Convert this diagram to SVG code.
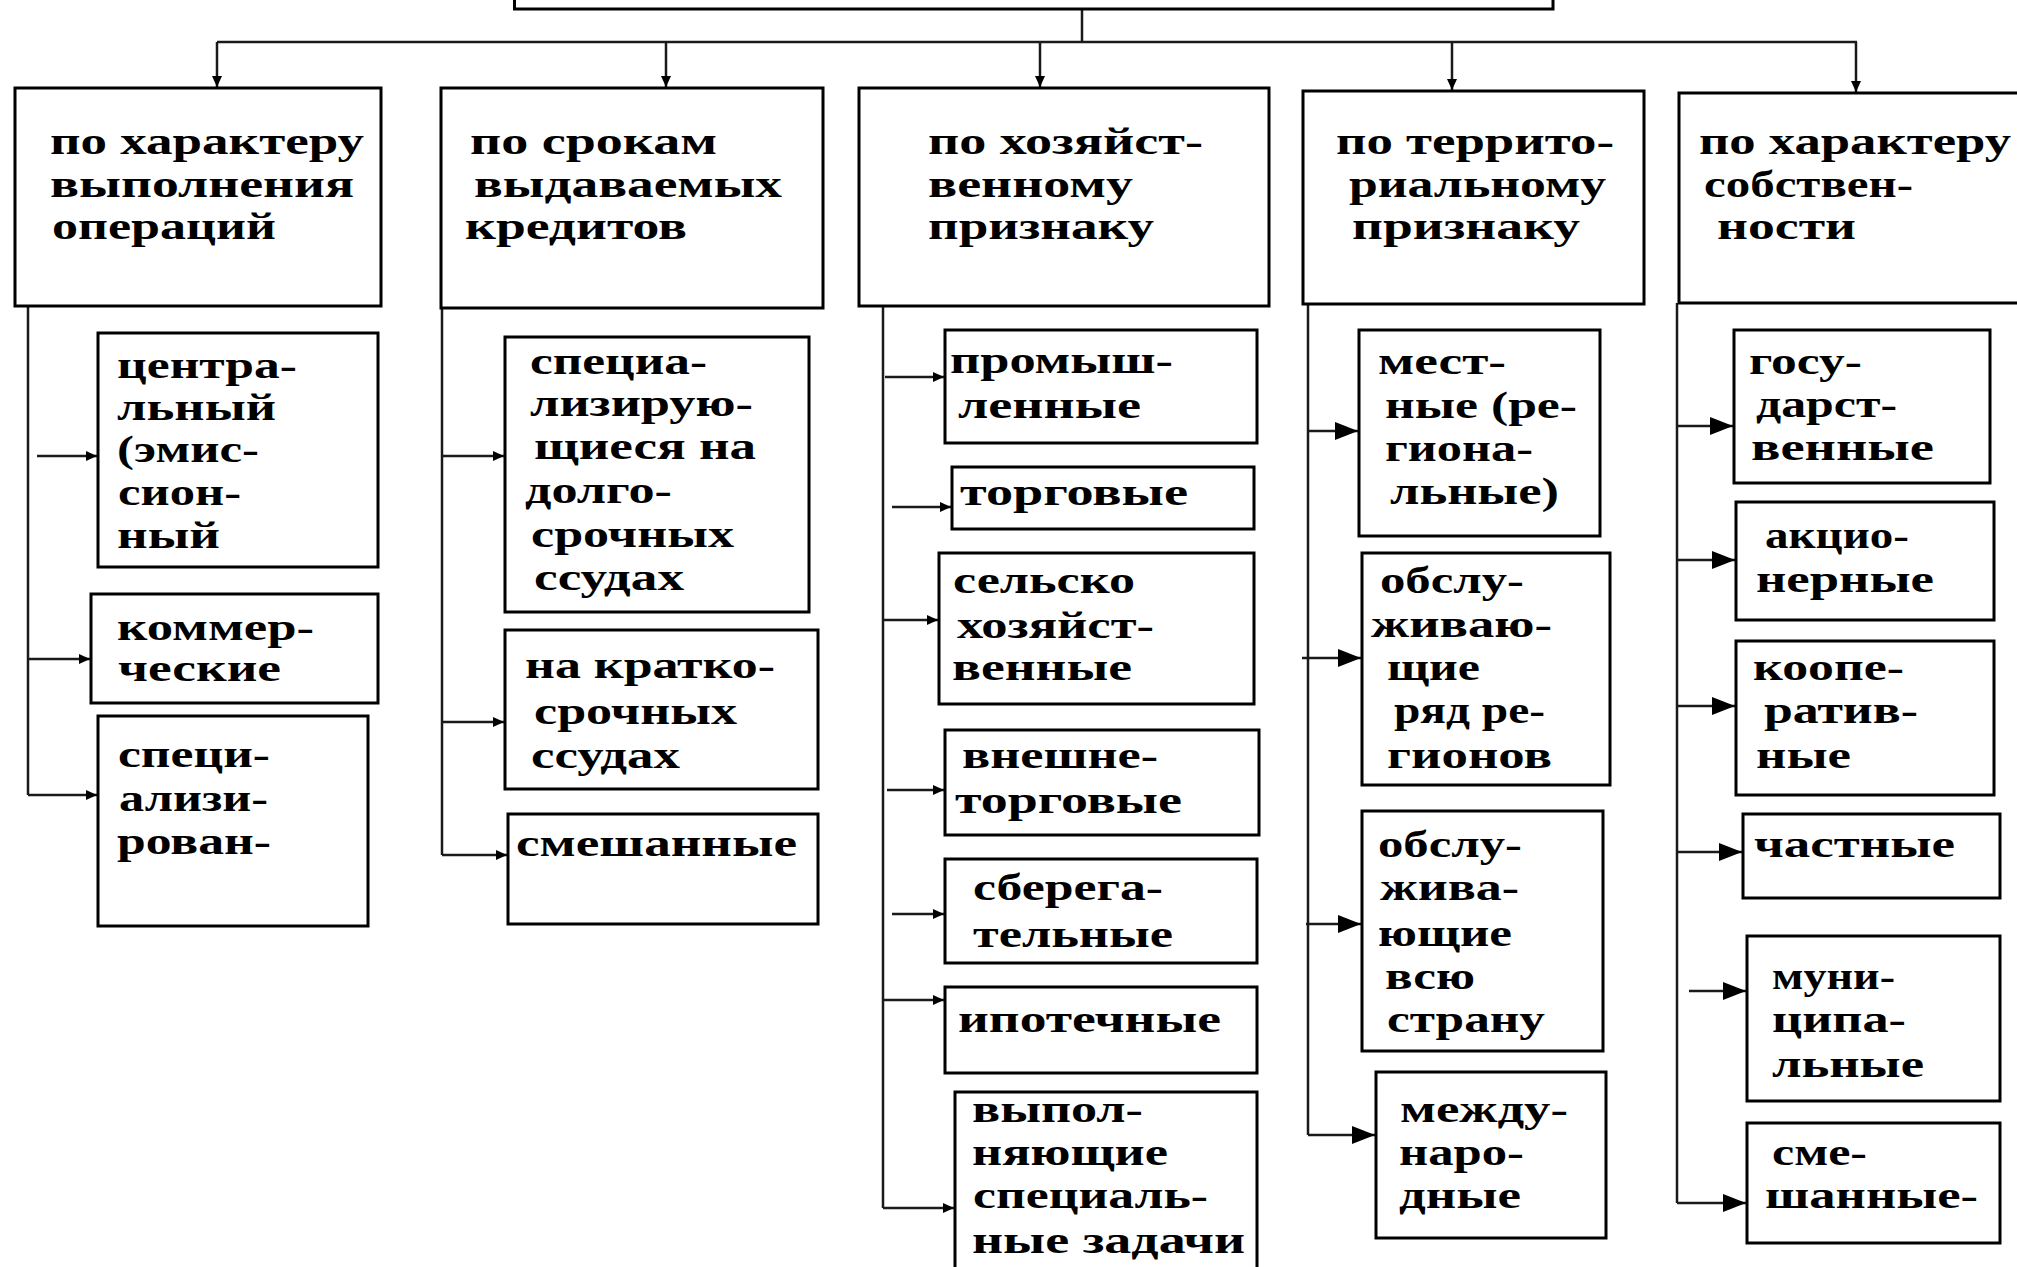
<svg xmlns="http://www.w3.org/2000/svg" width="2017" height="1267" viewBox="0 0 2017 1267">
<defs>
<style>
.box{fill:#fff;stroke:#000;stroke-width:3}
.t{font-family:"Liberation Serif","Times New Roman",serif;font-weight:bold;font-size:38px;fill:#000}
.c{stroke:#1a1a1a;stroke-width:2.5;fill:none}
.cs{stroke:#1a1a1a;stroke-width:2.5;fill:none;marker-end:url(#as)}
.cb{stroke:#1a1a1a;stroke-width:2.5;fill:none;marker-end:url(#ab)}
</style>
<marker id="as" markerUnits="userSpaceOnUse" markerWidth="12" markerHeight="10" refX="11" refY="5" orient="auto"><path d="M0,0 L11,5 L0,10 z" fill="#000"/></marker>
<marker id="ab" markerUnits="userSpaceOnUse" markerWidth="24" markerHeight="18" refX="23" refY="9" orient="auto"><path d="M0,0 L23,9 L0,18 z" fill="#000"/></marker>
</defs>
<rect width="2017" height="1267" fill="#fff"/>

<g id="connectors">
<path class="c" d="M1082,9 V42 M217,42 H1857"/>
<path class="cs" d="M217,42 V87"/>
<path class="cs" d="M666,42 V87"/>
<path class="cs" d="M1040,42 V87"/>
<path class="cs" d="M1452,42 V90"/>
<path class="cs" d="M1856,42 V92"/>
<path class="c" d="M28,306 V795"/>
<path class="cs" d="M37,456 H97"/>
<path class="cs" d="M28,659 H90"/>
<path class="cs" d="M28,795 H97"/>
<path class="c" d="M442,308 V855"/>
<path class="cs" d="M442,456 H504"/>
<path class="cs" d="M442,722 H504"/>
<path class="cs" d="M442,855 H507"/>
<path class="c" d="M883,306 V1208"/>
<path class="cs" d="M885,377 H944"/>
<path class="cs" d="M892,507 H951"/>
<path class="cs" d="M883,620 H938"/>
<path class="cs" d="M887,790 H944"/>
<path class="cs" d="M892,914 H944"/>
<path class="cs" d="M883,1000 H944"/>
<path class="cs" d="M883,1208 H954"/>
<path class="c" d="M1308,304 V1135"/>
<path class="cb" d="M1308,431 H1358"/>
<path class="cb" d="M1302,658 H1361"/>
<path class="cb" d="M1306,924 H1361"/>
<path class="cb" d="M1308,1135 H1375"/>
<path class="c" d="M1677,303 V1203"/>
<path class="cb" d="M1677,426 H1733"/>
<path class="cb" d="M1677,560 H1735"/>
<path class="cb" d="M1677,706 H1735"/>
<path class="cb" d="M1677,852 H1742"/>
<path class="cb" d="M1689,991 H1746"/>
<path class="cb" d="M1677,1203 H1746"/>
</g>

<g id="root"><rect class="box" x="514.5" y="-20" width="1038.5" height="29"/></g>

<g id="b1"><rect class="box" x="15" y="88" width="366" height="218"/>
<text class="t"><tspan x="50" y="154" textLength="314" lengthAdjust="spacingAndGlyphs">по характеру</tspan><tspan x="50" y="197" textLength="304" lengthAdjust="spacingAndGlyphs">выполнения</tspan><tspan x="52" y="239" textLength="224" lengthAdjust="spacingAndGlyphs">операций</tspan></text></g>
<g id="b2"><rect class="box" x="441" y="88" width="382" height="220"/>
<text class="t"><tspan x="470" y="154" textLength="247" lengthAdjust="spacingAndGlyphs">по срокам</tspan><tspan x="474" y="197" textLength="308" lengthAdjust="spacingAndGlyphs">выдаваемых</tspan><tspan x="465" y="239" textLength="222" lengthAdjust="spacingAndGlyphs">кредитов</tspan></text></g>
<g id="b3"><rect class="box" x="859" y="88" width="410" height="218"/>
<text class="t"><tspan x="928" y="154" textLength="275" lengthAdjust="spacingAndGlyphs">по хозяйст-</tspan><tspan x="928" y="197" textLength="205" lengthAdjust="spacingAndGlyphs">венному</tspan><tspan x="928" y="239" textLength="226" lengthAdjust="spacingAndGlyphs">признаку</tspan></text></g>
<g id="b4"><rect class="box" x="1303" y="91" width="341" height="213"/>
<text class="t"><tspan x="1336" y="154" textLength="278" lengthAdjust="spacingAndGlyphs">по террито-</tspan><tspan x="1349" y="197" textLength="257" lengthAdjust="spacingAndGlyphs">риальному</tspan><tspan x="1352" y="239" textLength="228" lengthAdjust="spacingAndGlyphs">признаку</tspan></text></g>
<g id="b5"><rect class="box" x="1679" y="93" width="360" height="210"/>
<text class="t"><tspan x="1699" y="154" textLength="312" lengthAdjust="spacingAndGlyphs">по характеру</tspan><tspan x="1704" y="197" textLength="209" lengthAdjust="spacingAndGlyphs">собствен-</tspan><tspan x="1717" y="239" textLength="139" lengthAdjust="spacingAndGlyphs">ности</tspan></text></g>

<g id="c1a"><rect class="box" x="98" y="333" width="280" height="234"/>
<text class="t"><tspan x="117" y="378" textLength="180" lengthAdjust="spacingAndGlyphs">центра-</tspan><tspan x="117" y="420" textLength="159" lengthAdjust="spacingAndGlyphs">льный</tspan><tspan x="117" y="462" textLength="142" lengthAdjust="spacingAndGlyphs">(эмис-</tspan><tspan x="118" y="505" textLength="123" lengthAdjust="spacingAndGlyphs">сион-</tspan><tspan x="117" y="548" textLength="103" lengthAdjust="spacingAndGlyphs">ный</tspan></text></g>
<g id="c1b"><rect class="box" x="91" y="594" width="287" height="109"/>
<text class="t"><tspan x="117" y="640" textLength="197" lengthAdjust="spacingAndGlyphs">коммер-</tspan><tspan x="118" y="681" textLength="163" lengthAdjust="spacingAndGlyphs">ческие</tspan></text></g>
<g id="c1c"><rect class="box" x="98" y="716" width="270" height="210"/>
<text class="t"><tspan x="118" y="767" textLength="152" lengthAdjust="spacingAndGlyphs">специ-</tspan><tspan x="119" y="811" textLength="149" lengthAdjust="spacingAndGlyphs">ализи-</tspan><tspan x="117" y="854" textLength="154" lengthAdjust="spacingAndGlyphs">рован-</tspan></text></g>

<g id="c2a"><rect class="box" x="505" y="337" width="304" height="275"/>
<text class="t"><tspan x="530" y="374" textLength="177" lengthAdjust="spacingAndGlyphs">специа-</tspan><tspan x="530" y="416" textLength="223" lengthAdjust="spacingAndGlyphs">лизирую-</tspan><tspan x="534" y="459" textLength="222" lengthAdjust="spacingAndGlyphs">щиеся на</tspan><tspan x="525" y="503" textLength="147" lengthAdjust="spacingAndGlyphs">долго-</tspan><tspan x="531" y="547" textLength="203" lengthAdjust="spacingAndGlyphs">срочных</tspan><tspan x="534" y="590" textLength="150" lengthAdjust="spacingAndGlyphs">ссудах</tspan></text></g>
<g id="c2b"><rect class="box" x="505" y="630" width="313" height="159"/>
<text class="t"><tspan x="525" y="678" textLength="250" lengthAdjust="spacingAndGlyphs">на кратко-</tspan><tspan x="534" y="724" textLength="203" lengthAdjust="spacingAndGlyphs">срочных</tspan><tspan x="531" y="768" textLength="149" lengthAdjust="spacingAndGlyphs">ссудах</tspan></text></g>
<g id="c2c"><rect class="box" x="508" y="814" width="310" height="110"/>
<text class="t"><tspan x="516" y="856" textLength="281" lengthAdjust="spacingAndGlyphs">смешанные</tspan></text></g>

<g id="c3a"><rect class="box" x="945" y="330" width="312" height="113"/>
<text class="t"><tspan x="950" y="373" textLength="223" lengthAdjust="spacingAndGlyphs">промыш-</tspan><tspan x="958" y="418" textLength="183" lengthAdjust="spacingAndGlyphs">ленные</tspan></text></g>
<g id="c3b"><rect class="box" x="952" y="467" width="302" height="62"/>
<text class="t"><tspan x="960" y="505" textLength="228" lengthAdjust="spacingAndGlyphs">торговые</tspan></text></g>
<g id="c3c"><rect class="box" x="939" y="553" width="315" height="151"/>
<text class="t"><tspan x="953" y="593" textLength="182" lengthAdjust="spacingAndGlyphs">сельско</tspan><tspan x="957" y="638" textLength="197" lengthAdjust="spacingAndGlyphs">хозяйст-</tspan><tspan x="952" y="680" textLength="180" lengthAdjust="spacingAndGlyphs">венные</tspan></text></g>
<g id="c3d"><rect class="box" x="945" y="730" width="314" height="105"/>
<text class="t"><tspan x="962" y="768" textLength="196" lengthAdjust="spacingAndGlyphs">внешне-</tspan><tspan x="955" y="813" textLength="227" lengthAdjust="spacingAndGlyphs">торговые</tspan></text></g>
<g id="c3e"><rect class="box" x="945" y="859" width="312" height="104"/>
<text class="t"><tspan x="973" y="900" textLength="190" lengthAdjust="spacingAndGlyphs">сберега-</tspan><tspan x="973" y="947" textLength="200" lengthAdjust="spacingAndGlyphs">тельные</tspan></text></g>
<g id="c3f"><rect class="box" x="945" y="987" width="312" height="86"/>
<text class="t"><tspan x="958" y="1032" textLength="263" lengthAdjust="spacingAndGlyphs">ипотечные</tspan></text></g>
<g id="c3g"><rect class="box" x="955" y="1092" width="302" height="200"/>
<text class="t"><tspan x="972" y="1122" textLength="171" lengthAdjust="spacingAndGlyphs">выпол-</tspan><tspan x="972" y="1165" textLength="196" lengthAdjust="spacingAndGlyphs">няющие</tspan><tspan x="973" y="1208" textLength="235" lengthAdjust="spacingAndGlyphs">специаль-</tspan><tspan x="972" y="1253" textLength="273" lengthAdjust="spacingAndGlyphs">ные задачи</tspan></text></g>

<g id="c4a"><rect class="box" x="1359" y="330" width="241" height="206"/>
<text class="t"><tspan x="1378" y="374" textLength="128" lengthAdjust="spacingAndGlyphs">мест-</tspan><tspan x="1385" y="418" textLength="192" lengthAdjust="spacingAndGlyphs">ные (ре-</tspan><tspan x="1385" y="461" textLength="148" lengthAdjust="spacingAndGlyphs">гиона-</tspan><tspan x="1390" y="504" textLength="169" lengthAdjust="spacingAndGlyphs">льные)</tspan></text></g>
<g id="c4b"><rect class="box" x="1362" y="553" width="248" height="232"/>
<text class="t"><tspan x="1380" y="593" textLength="144" lengthAdjust="spacingAndGlyphs">обслу-</tspan><tspan x="1371" y="637" textLength="181" lengthAdjust="spacingAndGlyphs">живаю-</tspan><tspan x="1387" y="680" textLength="93" lengthAdjust="spacingAndGlyphs">щие</tspan><tspan x="1394" y="723" textLength="151" lengthAdjust="spacingAndGlyphs">ряд ре-</tspan><tspan x="1387" y="768" textLength="165" lengthAdjust="spacingAndGlyphs">гионов</tspan></text></g>
<g id="c4c"><rect class="box" x="1362" y="811" width="241" height="240"/>
<text class="t"><tspan x="1378" y="857" textLength="144" lengthAdjust="spacingAndGlyphs">обслу-</tspan><tspan x="1380" y="900" textLength="139" lengthAdjust="spacingAndGlyphs">жива-</tspan><tspan x="1378" y="946" textLength="134" lengthAdjust="spacingAndGlyphs">ющие</tspan><tspan x="1385" y="989" textLength="90" lengthAdjust="spacingAndGlyphs">всю</tspan><tspan x="1387" y="1032" textLength="158" lengthAdjust="spacingAndGlyphs">страну</tspan></text></g>
<g id="c4d"><rect class="box" x="1376" y="1072" width="230" height="166"/>
<text class="t"><tspan x="1400" y="1122" textLength="168" lengthAdjust="spacingAndGlyphs">между-</tspan><tspan x="1399" y="1165" textLength="125" lengthAdjust="spacingAndGlyphs">наро-</tspan><tspan x="1399" y="1208" textLength="122" lengthAdjust="spacingAndGlyphs">дные</tspan></text></g>

<g id="c5a"><rect class="box" x="1734" y="330" width="256" height="153"/>
<text class="t"><tspan x="1749" y="374" textLength="113" lengthAdjust="spacingAndGlyphs">госу-</tspan><tspan x="1756" y="417" textLength="141" lengthAdjust="spacingAndGlyphs">дарст-</tspan><tspan x="1751" y="460" textLength="183" lengthAdjust="spacingAndGlyphs">венные</tspan></text></g>
<g id="c5b"><rect class="box" x="1736" y="502" width="258" height="118"/>
<text class="t"><tspan x="1765" y="548" textLength="144" lengthAdjust="spacingAndGlyphs">акцио-</tspan><tspan x="1756" y="592" textLength="178" lengthAdjust="spacingAndGlyphs">нерные</tspan></text></g>
<g id="c5c"><rect class="box" x="1736" y="641" width="258" height="154"/>
<text class="t"><tspan x="1753" y="680" textLength="151" lengthAdjust="spacingAndGlyphs">коопе-</tspan><tspan x="1764" y="723" textLength="154" lengthAdjust="spacingAndGlyphs">ратив-</tspan><tspan x="1756" y="768" textLength="95" lengthAdjust="spacingAndGlyphs">ные</tspan></text></g>
<g id="c5d"><rect class="box" x="1743" y="814" width="257" height="84"/>
<text class="t"><tspan x="1754" y="857" textLength="201" lengthAdjust="spacingAndGlyphs">частные</tspan></text></g>
<g id="c5e"><rect class="box" x="1747" y="936" width="253" height="165"/>
<text class="t"><tspan x="1772" y="989" textLength="123" lengthAdjust="spacingAndGlyphs">муни-</tspan><tspan x="1772" y="1032" textLength="134" lengthAdjust="spacingAndGlyphs">ципа-</tspan><tspan x="1772" y="1077" textLength="152" lengthAdjust="spacingAndGlyphs">льные</tspan></text></g>
<g id="c5f"><rect class="box" x="1747" y="1123" width="253" height="120"/>
<text class="t"><tspan x="1772" y="1165" textLength="95" lengthAdjust="spacingAndGlyphs">сме-</tspan><tspan x="1765" y="1208" textLength="213" lengthAdjust="spacingAndGlyphs">шанные-</tspan></text></g>
</svg>
